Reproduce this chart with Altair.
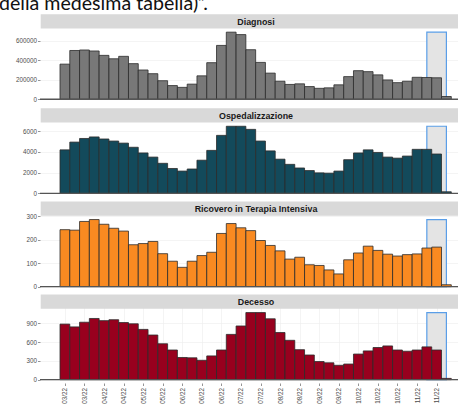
import altair as alt
import pandas as pd

# ---- data -------------------------------------------------------------
panel_titles = ["Diagnosi", "Ospedalizzazione", "Ricovero in Terapia Intensiva", "Decesso"]

diagnosi = [360000, 500000, 505000, 495000, 450000, 415000, 440000, 365000, 300000, 262000,
            190000, 140000, 122000, 155000, 240000, 375000, 552000, 688000, 663000, 508000,
            378000, 268000, 185000, 152000, 158000, 130000, 112000, 117000, 148000, 232000,
            293000, 283000, 250000, 198000, 170000, 185000, 225000, 223000, 220000, 28000]
ospedalizzazione = [4200, 4950, 5300, 5450, 5250, 5050, 4850, 4450, 3900, 3500,
                    2900, 2400, 2150, 2350, 3200, 4150, 5600, 6480, 6480, 6180,
                    5050, 4100, 3300, 2800, 2450, 2200, 1980, 1950, 2150, 3250,
                    3900, 4200, 3950, 3500, 3400, 3600, 4250, 4250, 3800, 150]
terapia_intensiva = [242, 240, 277, 285, 265, 248, 236, 178, 183, 192,
                     140, 108, 82, 108, 132, 146, 226, 268, 250, 238,
                     196, 175, 152, 117, 125, 93, 90, 71, 54, 114,
                     143, 172, 154, 138, 130, 136, 139, 164, 168, 8]
decesso = [890, 845, 920, 980, 945, 960, 915, 895, 805, 715,
           575, 475, 355, 350, 310, 380, 475, 725, 860, 1075,
           1075, 975, 755, 630, 480, 395, 290, 270, 230, 250,
           410, 460, 515, 540, 475, 455, 475, 525, 475, 20]

series = [diagnosi, ospedalizzazione, terapia_intensiva, decesso]
week_index = list(range(1, 41))

y_ticks = [[0, 200000, 400000, 600000], [0, 2000, 4000, 6000], [0, 100, 200, 300], [0, 300, 600, 900]]

tick_weeks = list(range(1, 40, 2))
tick_labels = ["03/22", "03/22", "04/22", "04/22", "05/22", "05/22", "06/22", "06/22", "06/22", "07/22",
               "07/22", "08/22", "08/22", "09/22", "09/22", "10/22", "10/22", "10/22", "11/22", "11/22"]

highlight_weeks = [38, 40]
heading = "della medesima tabella)\u201d."

# ---- styling / layout ---------------------------------------------------
bar_colors = ["#787878", "#134a5b", "#f98a21", "#98001e"]
FONT = "Liberation Sans"
TEXT_GREY = "#4d4d4d"
GRID = "#ececec"

PAD_LEFT, PAD_TOP, PAD_BOTTOM = 40, 14, 22
W, H = 418, 369
PANEL_H = 73.8
panel_tops = [14.8, 108.9, 202.2, 295.2]

step = 9.782
x_lo = 1 - 24.9 / step
x_hi = x_lo + W / step
x_scale = alt.Scale(domain=[x_lo, x_hi], nice=False, zero=False)

# one shared bottom axis: every layer carries the same definition
x_axis = alt.Axis(
    values=tick_weeks,
    labelExpr="[" + ",".join("'%s'" % t for t in tick_labels) + "][(datum.value - 1) / 2]",
    labelAngle=270, labelFont=FONT, labelFontSize=6.3, labelColor=TEXT_GREY,
    labelPadding=2, tickSize=2.5, tickColor=TEXT_GREY, tickWidth=0.6,
    domain=False, grid=True, gridColor=GRID, gridWidth=0.6, title=None,
)


def panel(k):
    """All layers of one panel: highlight box, bars, zero line, strip header."""
    values = series[k]
    top = panel_tops[k]
    peak = max(values)
    y_scale = alt.Scale(domain=[-0.05 * peak, 1.05 * peak],
                        range=[top + PANEL_H, top], nice=False, zero=False)

    bars_df = pd.DataFrame({"week": week_index, "value": values})
    bars_df["x0"] = bars_df["week"] - 0.5
    bars_df["x1"] = bars_df["week"] + 0.5
    bars_df["base"] = 0

    box = alt.Chart(pd.DataFrame({"x0": [highlight_weeks[0]], "x1": [highlight_weeks[1]],
                                  "top": [peak], "base": [0]})).mark_rect(
        fill="#e4e4e4", stroke="#5a9ee8", strokeWidth=1.2
    ).encode(
        x=alt.X("x0:Q", scale=x_scale, axis=x_axis),
        x2="x1:Q",
        y=alt.Y("top:Q", scale=y_scale, axis=None),
        y2="base:Q",
    )

    y_axis = alt.Axis(
        orient="left", values=y_ticks[k], format="d", title=None,
        labelFont=FONT, labelFontSize=6.3, labelColor=TEXT_GREY, labelPadding=1,
        tickSize=2.5, tickColor=TEXT_GREY, tickWidth=0.6, domain=False,
        grid=True, gridColor=GRID, gridWidth=0.6,
    )

    bars = alt.Chart(bars_df).mark_rect(
        fill=bar_colors[k], stroke="#2b2b2b", strokeWidth=0.8
    ).encode(
        x=alt.X("x0:Q", scale=x_scale, axis=x_axis),
        x2="x1:Q",
        y=alt.Y("value:Q", scale=y_scale, axis=y_axis),
        y2="base:Q",
    )

    zero_line = alt.Chart(pd.DataFrame({"z": [0]})).mark_rule(
        color="#555555", strokeWidth=1.3
    ).encode(
        y=alt.Y("z:Q", scale=y_scale, axis=None),
        x=alt.value(0),
        x2=alt.value(W + 20),
    )

    title_df = pd.DataFrame({"title": [panel_titles[k]]})
    strip = alt.Chart(title_df).mark_rect(fill="#d9d9d9").encode(
        x=alt.value(0.7), x2=alt.value(W + 20),
        y=alt.value(top - 14.6), y2=alt.value(top - 0.4),
    )
    strip_text = alt.Chart(title_df).mark_text(
        font=FONT, fontSize=8.9, fontWeight="bold", color="#1a1a1a", baseline="middle"
    ).encode(
        x=alt.value(216), y=alt.value(top - 7.3), text="title:N",
    )

    return [box, bars, zero_line, strip, strip_text]


heading_text = alt.Chart(pd.DataFrame({"t": [heading]})).mark_text(
    font="Lato", fontSize=19.6, color="#111111", align="left", baseline="alphabetic"
).encode(x=alt.value(-41), y=alt.value(-4), text="t:N")

layers = []
for k in range(4):
    layers.extend(panel(k))
layers.append(heading_text)

chart = alt.layer(*layers).resolve_scale(
    y="independent"
).properties(
    width=W, height=H,
    padding={"left": PAD_LEFT, "top": PAD_TOP, "right": 0, "bottom": PAD_BOTTOM},
    autosize=alt.AutoSizeParams(type="none"),
).configure_view(stroke=None)

chart.save("out.html", embed_options={"renderer": "svg", "actions": False})
